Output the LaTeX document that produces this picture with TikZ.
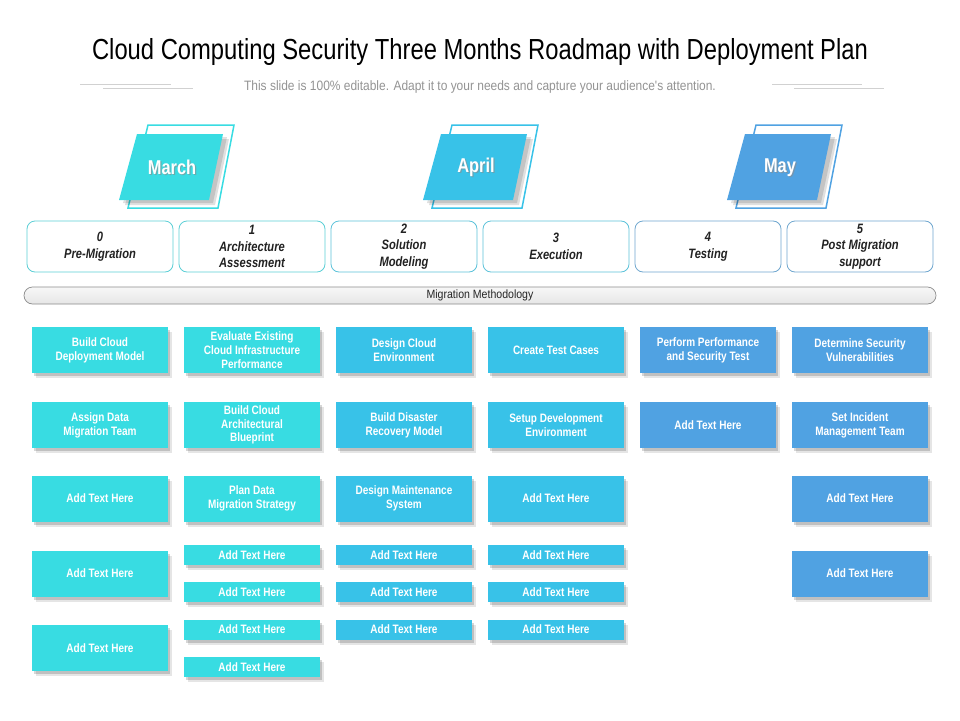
\documentclass[tikz,border=0pt]{standalone}
\usepackage{fontspec}
\setmainfont{Liberation Sans}
\newfontfamily\nrw[FakeStretch=0.82]{Liberation Sans}
\newfontfamily\nrwb[FakeStretch=0.88]{Liberation Sans}
\usetikzlibrary{shadows}
\definecolor{cMar}{HTML}{38DCE2}
\definecolor{cApr}{HTML}{38C2E8}
\definecolor{cMay}{HTML}{50A2E2}
\definecolor{bMar}{HTML}{5CCFD6}
\definecolor{bApr}{HTML}{5CC2DA}
\definecolor{bMay}{HTML}{6FA7CF}
\definecolor{txtdark}{HTML}{222222}
\tikzset{
  softshadow/.style={drop shadow={shadow xshift=2pt,shadow yshift=-3pt,opacity=.16,fill=black},
                     drop shadow={shadow xshift=4pt,shadow yshift=-5pt,opacity=.10,fill=black}},
  taskbox/.style={rectangle, minimum width=136pt, minimum height=46pt, inner sep=1pt, align=center,
    text=white, font=\nrw\bfseries\fontsize{12.2}{13.8}\selectfont, softshadow},
  smallbox/.style={taskbox, minimum height=20pt},
  phasebox/.style={rectangle, rounded corners=8pt, line width=0.8pt, fill=white,
    minimum width=146pt, minimum height=51pt, inner sep=1pt, align=center, text=txtdark,
    font=\nrw\bfseries\itshape\fontsize{13.6}{16.5}\selectfont},
  monthtxt/.style={text=white, font=\nrw\bfseries\fontsize{20}{22}\selectfont},
  monthshd/.style={text=black!45, opacity=.6, font=\nrw\bfseries\fontsize{20}{22}\selectfont},
}
\begin{document}
\begin{tikzpicture}[x=1pt,y=-1pt]
\path[use as bounding box, fill=white] (0,0) rectangle (960,720);
% title
\node[font=\nrw\fontsize{29}{32}\selectfont, text=black] (title) at (480,52.5)
  {Cloud Computing Security Three Months Roadmap with Deployment Plan};
\node[font=\nrwb\fontsize{13.6}{15}\selectfont, text=black!42] (sub) at (480,86.5)
  {This slide is 100\% editable. Adapt it to your needs and capture your audience's attention.};
\draw[black!18, line width=0.8pt] (80,84.5)--(171,84.5) (103,88.5)--(193,88.5)
  (772,84.5)--(862,84.5) (794,88.5)--(884,88.5);
% months
\foreach \dx/\c/\t/\n in {0/cMar/March/march, 304/cApr/April/april, 608/cMay/May/may}{
  \begin{scope}[xshift=\dx pt]
    \draw[\c, line width=1.5pt, line join=miter] (148,125)--(234,125)--(218,208)--(128,208)--cycle;
    \fill[black, opacity=.12] (143,139)--(229,139)--(215,205)--(125,205)--cycle;
    \fill[black, opacity=.12] (141,137)--(227,137)--(213,203)--(123,203)--cycle;
    \fill[\c] (137,134)--(223,134)--(209,200)--(119,200)--cycle;
    \node[monthshd] (\n s) at (173.2,168.7) {\t};
    \node[monthtxt] (\n) at (172,167.5) {\t};
  \end{scope}
}
% phase boxes
\node[phasebox, draw=bMar] (p0) at (100,246.5) {0\\Pre-Migration};
\node[phasebox, draw=bMar] (p1) at (252,246.5) {1\\Architecture\\Assessment};
\node[phasebox, draw=bApr] (p2) at (404,246.5) {2\\Solution\\Modeling};
\node[phasebox, draw=bApr] (p3) at (556,246.5) {3\\Execution};
\node[phasebox, draw=bMay] (p4) at (708,246.5) {4\\Testing};
\node[phasebox, draw=bMay] (p5) at (860,246.5) {5\\Post Migration\\support};
% methodology bar
\node[draw=black!45, line width=0.7pt, top color=black!3, bottom color=black!10, rounded corners=8.5pt,
  minimum width=912pt, minimum height=17pt, inner sep=0pt, text=black!85,
  font=\nrwb\fontsize{12}{13}\selectfont] (bar) at (480,295.5) {Migration Methodology};
% column 0
\node[taskbox, fill=cMar] (a1) at (100,350) {Build Cloud\\Deployment Model};
\node[taskbox, fill=cMar] (a2) at (100,425) {Assign Data\\Migration Team};
\node[taskbox, fill=cMar] (a3) at (100,498.5) {Add Text Here};
\node[taskbox, fill=cMar] (a4) at (100,573.5) {Add Text Here};
\node[taskbox, fill=cMar] (a5) at (100,648) {Add Text Here};
% column 1
\node[taskbox, fill=cMar] (b1) at (252,350) {Evaluate Existing\\Cloud Infrastructure\\Performance};
\node[taskbox, fill=cMar] (b2) at (252,425) {Build Cloud\\Architectural\\Blueprint};
\node[taskbox, fill=cMar] (b3) at (252,498.5) {Plan Data\\Migration Strategy};
\node[smallbox, fill=cMar] (b4) at (252,555) {Add Text Here};
\node[smallbox, fill=cMar] (b5) at (252,592) {Add Text Here};
\node[smallbox, fill=cMar] (b6) at (252,629.5) {Add Text Here};
\node[smallbox, fill=cMar] (b7) at (252,667) {Add Text Here};
% column 2
\node[taskbox, fill=cApr] (c1) at (404,350) {Design Cloud\\Environment};
\node[taskbox, fill=cApr] (c2) at (404,425) {Build Disaster\\Recovery Model};
\node[taskbox, fill=cApr] (c3) at (404,498.5) {Design Maintenance\\System};
\node[smallbox, fill=cApr] (c4) at (404,555) {Add Text Here};
\node[smallbox, fill=cApr] (c5) at (404,592) {Add Text Here};
\node[smallbox, fill=cApr] (c6) at (404,629.5) {Add Text Here};
% column 3
\node[taskbox, fill=cApr] (d1) at (556,350) {Create Test Cases};
\node[taskbox, fill=cApr] (d2) at (556,425) {Setup Development\\Environment};
\node[taskbox, fill=cApr] (d3) at (556,498.5) {Add Text Here};
\node[smallbox, fill=cApr] (d4) at (556,555) {Add Text Here};
\node[smallbox, fill=cApr] (d5) at (556,592) {Add Text Here};
\node[smallbox, fill=cApr] (d6) at (556,629.5) {Add Text Here};
% column 4
\node[taskbox, fill=cMay] (e1) at (708,350) {Perform Performance\\and Security Test};
\node[taskbox, fill=cMay] (e2) at (708,425) {Add Text Here};
% column 5
\node[taskbox, fill=cMay] (f1) at (860,350) {Determine Security\\Vulnerabilities};
\node[taskbox, fill=cMay] (f2) at (860,425) {Set Incident\\Management Team};
\node[taskbox, fill=cMay] (f3) at (860,498.5) {Add Text Here};
\node[taskbox, fill=cMay] (f4) at (860,573.5) {Add Text Here};
\end{tikzpicture}
\end{document}
